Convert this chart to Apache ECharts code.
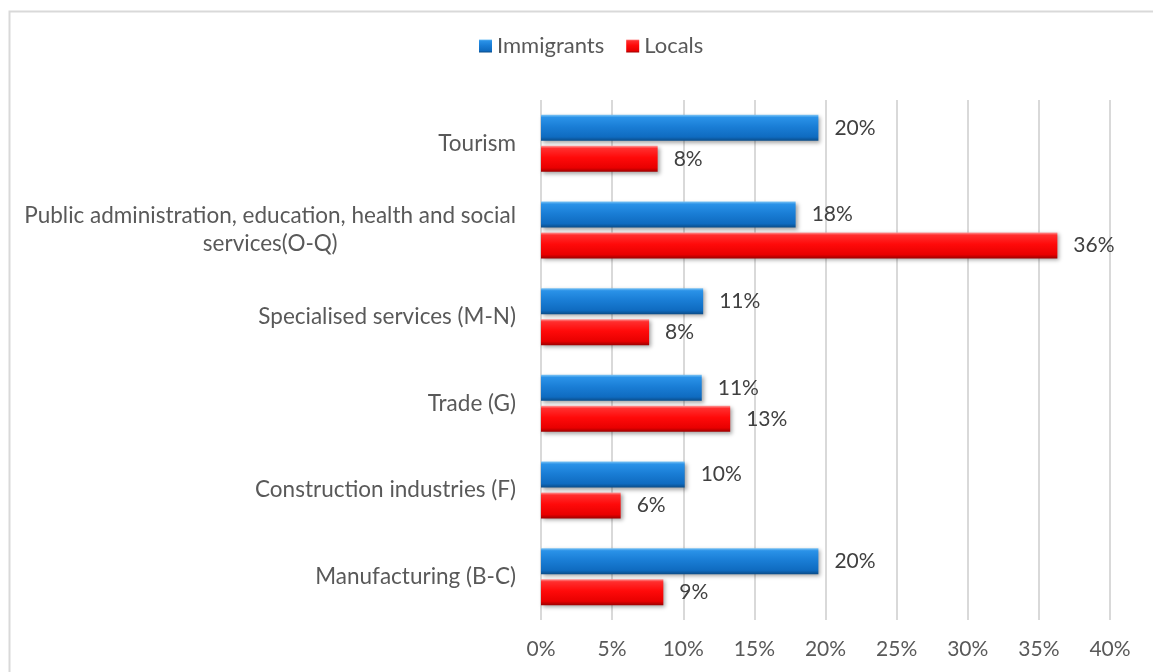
<!DOCTYPE html>
<html>
<head>
<meta charset="utf-8">
<script src="https://cdn.jsdelivr.net/npm/echarts@6/dist/echarts.min.js"></script>
<style>
  html, body { margin: 0; padding: 0; background: #ffffff; }
  #chart { width: 1153px; height: 672px; }
</style>
</head>
<body>
<div id="chart"></div>
<script>
// Employment share by sector, immigrants vs locals (percent)
const categories = [
  'Tourism',
  'Public administration, education, health and social services(O-Q)',
  'Specialised services (M-N)',
  'Trade (G)',
  'Construction industries (F)',
  'Manufacturing (B-C)'
];
const immigrants = [19.5, 17.9, 11.4, 11.3, 10.1, 19.5];
const locals = [8.2, 36.3, 7.6, 13.3, 5.6, 8.6];
const seriesNames = ['Immigrants', 'Locals'];
const axisMin = 0;
const axisMax = 40;
const axisStep = 5;

const FONT = 'Lato, "Liberation Sans", sans-serif';

// Greedy word wrap for long category names
function wrap(text, maxChars) {
  const words = text.split(' ');
  const lines = [];
  let cur = '';
  words.forEach(w => {
    const next = cur ? cur + ' ' + w : w;
    if (next.length > maxChars && cur) { lines.push(cur); cur = w; }
    else cur = next;
  });
  if (cur) lines.push(cur);
  return lines;
}

// Bevelled look: vertical gradient with a light top edge and a dark bottom edge
function bevel(light, top, mid, low, dark) {
  return new echarts.graphic.LinearGradient(0, 0, 0, 1, [
    { offset: 0, color: light },
    { offset: 0.1, color: top },
    { offset: 0.45, color: mid },
    { offset: 0.85, color: low },
    { offset: 1, color: dark }
  ]);
}
const blueFill = bevel('#7cc4f5', '#2a92e8', '#1a7ed6', '#0f6bc0', '#0a4c88');
const redFill = bevel('#ff9a9a', '#ff2e2e', '#ff0a0a', '#e80000', '#9e0000');

const barStyle = (fill) => ({
  color: fill,
  shadowColor: 'rgba(0,0,0,0.35)',
  shadowBlur: 4,
  shadowOffsetX: 2,
  shadowOffsetY: 2
});

const valueLabel = {
  show: true,
  position: 'right',
  distance: 16,
  fontFamily: FONT,
  fontSize: 21,
  color: '#404040',
  formatter: p => Math.round(p.value) + '%'
};

const chart = echarts.init(document.getElementById('chart'), null, { renderer: 'canvas' });
chart.setOption({
  backgroundColor: '#ffffff',
  animation: false,
  textStyle: { fontFamily: FONT },
  graphic: [{
    type: 'rect',
    left: 7, top: 9,
    shape: { width: 1200, height: 700 },
    style: { fill: 'none', stroke: '#d9d9d9', lineWidth: 2 },
    silent: true
  }],
  legend: {
    data: seriesNames,
    left: 479,
    top: 35,
    padding: 0,
    itemWidth: 13,
    itemHeight: 13,
    itemGap: 22,
    icon: 'rect',
    textStyle: { fontFamily: FONT, fontSize: 22, color: '#595959' }
  },
  grid: { left: 541, right: 43, top: 100, bottom: 52, containLabel: false },
  xAxis: {
    type: 'value',
    min: axisMin,
    max: axisMax,
    interval: axisStep,
    axisLine: { show: false },
    axisTick: { show: false },
    splitLine: { lineStyle: { color: '#d9d9d9', width: 2 } },
    axisLabel: {
      margin: 19,
      fontFamily: FONT,
      fontSize: 21,
      color: '#595959',
      formatter: '{value}%'
    }
  },
  yAxis: {
    type: 'category',
    inverse: true,
    data: categories,
    axisLine: { show: false },
    axisTick: { show: false },
    axisLabel: {
      margin: 25,
      fontFamily: FONT,
      fontSize: 22.5,
      color: '#595959',
      lineHeight: 28,
      formatter: v => wrap(v, 52).map(l => '{c|' + l + '}').join('\n'),
      rich: { c: { align: 'center', fontFamily: FONT, fontSize: 22.5, color: '#595959', lineHeight: 28 } }
    }
  },
  series: [
    {
      name: seriesNames[0],
      type: 'bar',
      data: immigrants,
      barWidth: 26,
      barGap: '19%',
      itemStyle: barStyle(blueFill),
      label: valueLabel
    },
    {
      name: seriesNames[1],
      type: 'bar',
      data: locals,
      barWidth: 26,
      barGap: '19%',
      itemStyle: barStyle(redFill),
      label: valueLabel
    }
  ]
});
</script>
</body>
</html>
